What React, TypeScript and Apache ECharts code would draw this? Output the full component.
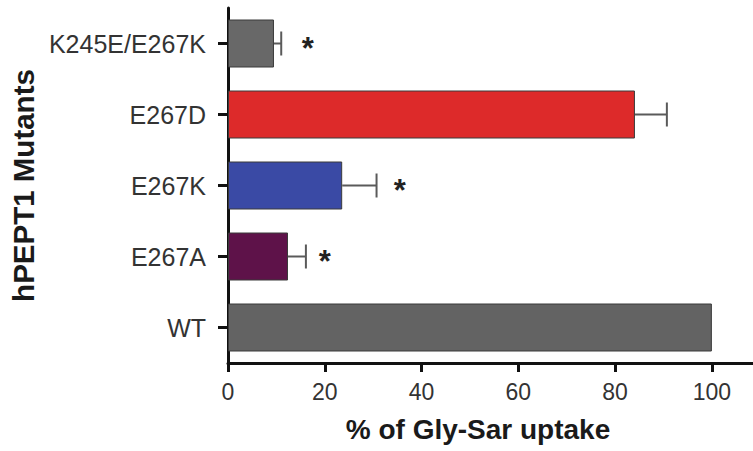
import React, { useEffect, useRef } from "react";
import * as echarts from "echarts";

const categories = ["K245E/E267K", "E267D", "E267K", "E267A", "WT"];
const uptake = [9.5, 84.1, 23.6, 12.4, 100];
const sem = [1.5, 6.6, 7.1, 3.7, 0];
const starPos: (number | null)[] = [16.5, null, 35.5, 20, null];
const barColors = ["#686868", "#dd2a2a", "#3a4aa5", "#5e1249", "#636363"];
const xTicks = [0, 20, 40, 60, 80, 100];

const FONT = "'Liberation Sans', Arial, Helvetica, sans-serif";

export default function App() {
  const ref = useRef<HTMLDivElement>(null);
  useEffect(() => {
    if (!ref.current) return;
    const chart = echarts.init(ref.current, null, { renderer: "svg" });
    const extra = categories.map((c, i) => [uptake[i], i, sem[i], starPos[i] == null ? NaN : starPos[i]]);
    chart.setOption({
      animation: false,
      backgroundColor: "#ffffff",
      grid: { left: 228, right: 0, top: 8, bottom: 88, containLabel: false },
      xAxis: {
        type: "value",
        min: 0,
        max: 108.5,
        interval: 20,
        name: "% of Gly-Sar uptake",
        nameLocation: "middle",
        nameGap: 52,
        nameTextStyle: {
          fontFamily: FONT,
          fontSize: 28,
          fontWeight: "bold",
          color: "#1a1a1a",
          padding: [0, 25, 0, 0],
        },
        axisLine: { show: true, lineStyle: { color: "#111", width: 3 } },
        axisTick: { show: true, length: 9, lineStyle: { color: "#111", width: 3 }, customValues: xTicks },
        axisLabel: { fontFamily: FONT, fontSize: 23, color: "#333", margin: 17, customValues: xTicks },
        splitLine: { show: false },
      },
      yAxis: {
        type: "category",
        data: categories,
        inverse: true,
        name: "hPEPT1 Mutants",
        nameLocation: "middle",
        nameGap: 189,
        nameTextStyle: {
          fontFamily: FONT,
          fontSize: 29.5,
          fontWeight: "bold",
          color: "#1a1a1a",
        },
        axisLine: { show: true, lineStyle: { color: "#111", width: 3 } },
        axisTick: { show: true, length: 10, alignWithLabel: true, lineStyle: { color: "#111", width: 3 } },
        axisLabel: { fontFamily: FONT, fontSize: 25, color: "#333", margin: 22 },
        splitLine: { show: false },
      },
      series: [
        {
          type: "bar",
          barWidth: 48,
          data: uptake.map((v, i) => ({
            value: v,
            itemStyle: { color: barColors[i], borderColor: "#3a3a3a", borderWidth: 1 },
          })),
          z: 2,
        },
        {
          type: "custom",
          data: extra,
          encode: { x: 0, y: 1 },
          z: 3,
          renderItem: (params: any, api: any) => {
            const v = api.value(0);
            const idx = api.value(1);
            const e = api.value(2);
            const s = api.value(3);
            const children: any[] = [];
            const start = api.coord([v, idx]);
            if (e > 0) {
              const end = api.coord([v + e, idx]);
              children.push({
                type: "line",
                shape: { x1: start[0], y1: start[1], x2: end[0], y2: end[1] },
                style: { stroke: "#5a5a5a", lineWidth: 2 },
              });
              children.push({
                type: "line",
                shape: { x1: end[0], y1: end[1] - 12, x2: end[0], y2: end[1] + 12 },
                style: { stroke: "#5a5a5a", lineWidth: 2 },
              });
            }
            if (!isNaN(s)) {
              const p = api.coord([s, idx]);
              children.push({
                type: "text",
                x: p[0],
                y: p[1] + 4.5,
                style: {
                  text: "*",
                  fontFamily: FONT,
                  fontSize: 31,
                  fontWeight: "bold",
                  fill: "#222",
                  align: "center",
                  verticalAlign: "middle",
                },
              });
            }
            return { type: "group", children };
          },
        },
      ],
    });
    return () => chart.dispose();
  }, []);
  return <div ref={ref} style={{ width: 753, height: 451, position: "absolute", left: 0, top: 0 }} />;
}
